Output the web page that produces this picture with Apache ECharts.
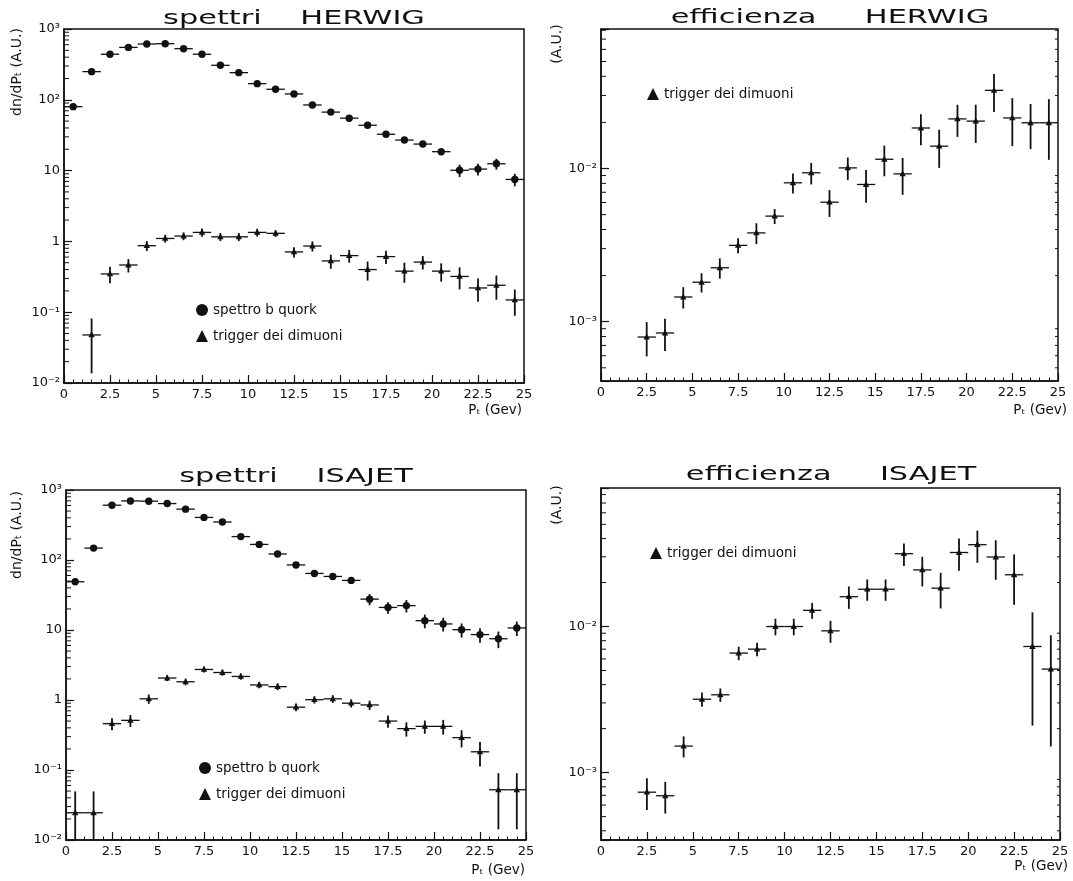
<!DOCTYPE html>
<html>
<head>
<meta charset="utf-8">
<title>spettri / efficienza</title>
<script src="https://cdn.jsdelivr.net/npm/echarts@6/dist/echarts.min.js"></script>
<style>
  html, body { margin: 0; padding: 0; background: #fff; }
  #chart { width: 1073px; height: 881px; }
</style>
</head>
<body>
<div id="chart"></div>
<script>
  // bin centres in Pt (GeV), 1 GeV wide bins
  let binCenters = [0.5, 1.5, 2.5, 3.5, 4.5, 5.5, 6.5, 7.5, 8.5, 9.5, 10.5, 11.5, 12.5,
    13.5, 14.5, 15.5, 16.5, 17.5, 18.5, 19.5, 20.5, 21.5, 22.5, 23.5, 24.5]
  let binHalfWidth = 0.5

  // HERWIG
  let herwigQuark = [80, 250, 440, 550, 614, 620, 527, 440, 307, 242, 169, 141, 121,
    84.5, 67, 55, 43.7, 32.6, 27, 23.7, 18.5, 10.1, 10.5, 12.5, 7.5]
  let herwigQuarkErr = [4, 8, 12, 14, 15, 15, 14, 12, 10, 9, 7, 6, 6,
    4, 3.5, 3, 2.6, 2.2, 2, 1.8, 1.2, 2, 2, 2.2, 1.5]
  let herwigTrigger = [null, 0.0477, 0.347, 0.464, 0.87, 1.10, 1.19, 1.34, 1.16, 1.16, 1.34, 1.30, 0.71,
    0.86, 0.53, 0.63, 0.40, 0.61, 0.38, 0.51, 0.38, 0.32, 0.22, 0.24, 0.149]
  let herwigTriggerErr = [null, 0.034, 0.09, 0.1, 0.14, 0.14, 0.15, 0.18, 0.15, 0.15, 0.17, 0.14, 0.12,
    0.14, 0.12, 0.13, 0.12, 0.13, 0.12, 0.11, 0.11, 0.11, 0.08, 0.09, 0.06]
  let herwigEff = [null, null, 7.94e-4, 8.44e-4, 1.45e-3, 1.81e-3, 2.25e-3, 3.15e-3, 3.80e-3, 4.89e-3,
    8.07e-3, 9.38e-3, 6.03e-3, 1.01e-2, 7.87e-3, 1.15e-2, 9.23e-3, 1.84e-2, 1.40e-2, 2.11e-2,
    2.04e-2, 3.24e-2, 2.14e-2, 1.99e-2, 1.99e-2]
  let herwigEffErr = [null, null, 2e-4, 2e-4, 2.3e-4, 2.6e-4, 3.4e-4, 3.5e-4, 5.9e-4, 5.5e-4,
    1.2e-3, 1.5e-3, 1.2e-3, 1.7e-3, 1.9e-3, 2.6e-3, 2.5e-3, 4.2e-3, 3.9e-3, 5.0e-3,
    5.7e-3, 9e-3, 7.4e-3, 6.5e-3, 8.5e-3]

  // ISAJET
  let isajetQuark = [48.9, 148, 607, 698, 692, 640, 533, 406, 349, 216, 167, 122, 85,
    64.3, 58.2, 51.1, 27.6, 21, 22.3, 13.6, 12.2, 10.1, 8.6, 7.5, 10.7]
  let isajetQuarkErr = [3, 8, 15, 16, 16, 15, 14, 12, 11, 8, 7, 6, 4.5,
    4, 4, 4, 5, 4, 4.5, 3, 2.7, 2.3, 2, 2, 2.5]
  let isajetTrigger = [0.0245, 0.0245, 0.459, 0.512, 1.04, 2.06, 1.82, 2.73, 2.47, 2.17, 1.64, 1.55, 0.79,
    1.01, 1.04, 0.90, 0.85, 0.50, 0.39, 0.42, 0.42, 0.29, 0.182, 0.0522, 0.0522]
  let isajetTriggerErr = [0.025, 0.025, 0.09, 0.1, 0.16, 0.2, 0.2, 0.25, 0.25, 0.22, 0.17, 0.17, 0.1,
    0.12, 0.13, 0.12, 0.13, 0.1, 0.09, 0.09, 0.1, 0.08, 0.07, 0.038, 0.038]
  let isajetEff = [null, null, 7.35e-4, 6.95e-4, 1.52e-3, 3.18e-3, 3.41e-3, 6.58e-3, 7.0e-3, 1.0e-2,
    1.0e-2, 1.29e-2, 9.34e-3, 1.60e-2, 1.80e-2, 1.80e-2, 3.15e-2, 2.44e-2, 1.83e-2, 3.21e-2,
    3.63e-2, 2.99e-2, 2.26e-2, 7.30e-3, 5.11e-3]
  let isajetEffErr = [null, null, 1.8e-4, 1.7e-4, 2.5e-4, 3.5e-4, 3.6e-4, 7e-4, 7.5e-4, 1.3e-3,
    1.3e-3, 1.6e-3, 1.6e-3, 2.8e-3, 3e-3, 3e-3, 5.5e-3, 5.6e-3, 5e-3, 8e-3,
    9e-3, 9e-3, 8.5e-3, 5.2e-3, 3.6e-3]

  // axis ranges
  let xRange = [0, 25]
  let xTickStep = 2.5
  let spectraRange = [0.01, 1000]
  let herwigEffRange = [4.1e-4, 0.0815]
  let isajetEffRange = [3.46e-4, 0.0887]
  let minorMultipliers = [2, 3, 4, 5, 6, 7, 8, 9]

  let quarkName = 'spettro b quork'
  let triggerName = 'trigger dei dimuoni'
  let xName = 'P\u209c (Gev)'

  let ink = '#111'
  let font = 'DejaVu Sans'

  let supDigits = {'-': '\u207b', '0': '\u2070', '1': '\u00b9', '2': '\u00b2', '3': '\u00b3',
    '4': '\u2074', '5': '\u2075', '6': '\u2076', '7': '\u2077', '8': '\u2078', '9': '\u2079'}

  function powerLabel (v) {
    let lg = Math.log10(v)
    let e = Math.round(lg)
    if (Math.abs(lg - e) > 1e-6) return ''
    if (e === 0) return '1'
    if (e === 1) return '10'
    return '10' + String(e).split('').map(c => supDigits[c]).join('')
  }

  function points (values, errs) {
    let out = []
    binCenters.forEach((x, i) => {
      if (values[i] != null) out.push([x, values[i], errs[i]])
    })
    return out
  }

  function minorTickValues (range) {
    let out = []
    let lo = Math.floor(Math.log10(range[0]))
    let hi = Math.ceil(Math.log10(range[1]))
    for (let k = lo; k < hi; k++) {
      minorMultipliers.forEach(m => {
        let v = m * Math.pow(10, k)
        if (v > range[0] && v < range[1]) out.push([xRange[0], v])
      })
    }
    return out
  }

  function errorCross (marker, range) {
    return function (params, api) {
      let x = api.value(0)
      let y = api.value(1)
      let e = api.value(2)
      let c = api.coord([x, y])
      let l = api.coord([x - binHalfWidth, y])
      let r = api.coord([x + binHalfWidth, y])
      let hi = api.coord([x, Math.min(y + e, range[1])])
      let lo = api.coord([x, Math.max(y - e, range[0])])
      let children = [
        {type: 'line', shape: {x1: l[0], y1: c[1], x2: r[0], y2: c[1]}, style: {stroke: ink, lineWidth: 1.3}},
        {type: 'line', shape: {x1: c[0], y1: hi[1], x2: c[0], y2: lo[1]}, style: {stroke: ink, lineWidth: 1.8}}
      ]
      if (marker === 'circle') {
        children.push({type: 'circle', shape: {cx: c[0], cy: c[1], r: 3.7}, style: {fill: ink}})
      } else {
        children.push({type: 'polygon',
          shape: {points: [[c[0], c[1] - 3.6], [c[0] - 3.2, c[1] + 2.4], [c[0] + 3.2, c[1] + 2.4]]},
          style: {fill: ink}})
      }
      return {type: 'group', children: children}
    }
  }

  function minorTicks (rightSide) {
    return function (params, api) {
      let v = api.value(1)
      let p = api.coord([xRange[0], v])
      let children = [{type: 'line', shape: {x1: p[0], y1: p[1], x2: p[0] + 5, y2: p[1]}, style: {stroke: ink, lineWidth: 1}}]
      if (rightSide) {
        let q = api.coord([xRange[1], v])
        children.push({type: 'line', shape: {x1: q[0], y1: q[1], x2: q[0] - 3, y2: q[1]}, style: {stroke: ink, lineWidth: 1}})
      }
      return {type: 'group', children: children}
    }
  }

  let panels = [
    {grid: {left: 64, top: 29, width: 460, height: 354}, range: spectraRange, effPanel: false,
      sets: [{name: quarkName, marker: 'circle', data: points(herwigQuark, herwigQuarkErr)},
        {name: triggerName, marker: 'triangle', data: points(herwigTrigger, herwigTriggerErr)}]},
    {grid: {left: 601, top: 29, width: 457, height: 352}, range: herwigEffRange, effPanel: true,
      sets: [{name: triggerName, marker: 'triangle', data: points(herwigEff, herwigEffErr)}]},
    {grid: {left: 66, top: 490, width: 460, height: 350}, range: spectraRange, effPanel: false,
      sets: [{name: quarkName, marker: 'circle', data: points(isajetQuark, isajetQuarkErr)},
        {name: triggerName, marker: 'triangle', data: points(isajetTrigger, isajetTriggerErr)}]},
    {grid: {left: 601, top: 488, width: 459, height: 352}, range: isajetEffRange, effPanel: true,
      sets: [{name: triggerName, marker: 'triangle', data: points(isajetEff, isajetEffErr)}]}
  ]

  let grids = []
  let xAxes = []
  let yAxes = []
  let series = []

  panels.forEach((p, i) => {
    grids.push(Object.assign({show: true, borderColor: ink, borderWidth: 1.5}, p.grid))
    xAxes.push({
      type: 'value', gridIndex: i, min: xRange[0], max: xRange[1], interval: xTickStep,
      axisLine: {show: true, onZero: false, lineStyle: {color: ink, width: 1.5}},
      axisTick: {show: true, inside: true, length: 8, lineStyle: {color: ink, width: 1.2}},
      minorTick: {show: true, splitNumber: 5, length: 3.5, lineStyle: {color: ink, width: 1}},
      axisLabel: {color: ink, fontSize: 13, fontFamily: font, margin: 5},
      splitLine: {show: false}
    })
    yAxes.push({
      type: 'log', logBase: 10, gridIndex: i, min: p.range[0], max: p.range[1],
      axisLine: {show: true, lineStyle: {color: ink, width: 1.5}},
      axisTick: {show: true, inside: true, length: 8, lineStyle: {color: ink, width: 1.2}},
      axisLabel: {color: ink, fontSize: 13, fontFamily: font, margin: 4, formatter: powerLabel},
      splitLine: {show: false}
    })
    series.push({
      type: 'custom', xAxisIndex: i, yAxisIndex: i, silent: true,
      renderItem: minorTicks(p.effPanel),
      encode: {x: 0, y: 1},
      data: minorTickValues(p.range)
    })
    p.sets.forEach(s => {
      series.push({
        type: 'custom', name: s.name, xAxisIndex: i, yAxisIndex: i,
        itemStyle: {color: ink},
        renderItem: errorCross(s.marker, p.range),
        encode: {x: 0, y: 1},
        data: s.data
      })
    })
  })

  let legendText = {color: ink, fontSize: 13.5, fontFamily: font}
  function legendAt (left, top, withQuark) {
    let data = []
    if (withQuark) data.push({name: quarkName, icon: 'circle'})
    data.push({name: triggerName, icon: 'triangle'})
    return {left: left, top: top, orient: 'vertical', itemGap: 12, itemWidth: 12, itemHeight: 12,
      selectedMode: false, textStyle: legendText, data: data}
  }

  function title (text, x, y) {
    return {type: 'text', x: x, y: y, scaleX: 1.6,
      style: {text: text, fill: ink, font: '19px "DejaVu Sans"', textAlign: 'center', textVerticalAlign: 'middle', verticalAlign: 'middle'}}
  }
  function label (text, x, y, align, rotated) {
    return {type: 'text', x: x, y: y, rotation: rotated ? Math.PI / 2 : 0,
      style: {text: text, fill: ink, font: (rotated ? 14 : 13.5) + 'px "DejaVu Sans"', textAlign: align, textVerticalAlign: 'middle', verticalAlign: 'middle'}}
  }

  let myChart = echarts.init(document.getElementById('chart'))
  let option = {
    animation: false,
    backgroundColor: '#fff',
    grid: grids,
    xAxis: xAxes,
    yAxis: yAxes,
    legend: [legendAt(191, 298, true), legendAt(642, 82, false), legendAt(194, 756, true), legendAt(645, 541, false)],
    graphic: [
      title('spettri    HERWIG', 294, 19),
      title('efficienza     HERWIG', 830, 18),
      title('spettri    ISAJET', 296, 477),
      title('efficienza     ISAJET', 831, 475),
      label('dn/dP\u209c (A.U.)', 17, 72, 'center', true),
      label('(A.U.)', 557, 44, 'center', true),
      label('dn/dP\u209c (A.U.)', 17, 535, 'center', true),
      label('(A.U.)', 557, 505, 'center', true),
      label(xName, 522, 410, 'right', false),
      label(xName, 1067, 410, 'right', false),
      label(xName, 525, 870, 'right', false),
      label(xName, 1068, 866, 'right', false)
    ],
    series: series
  }
  myChart.setOption(option)
</script>
</body>
</html>
